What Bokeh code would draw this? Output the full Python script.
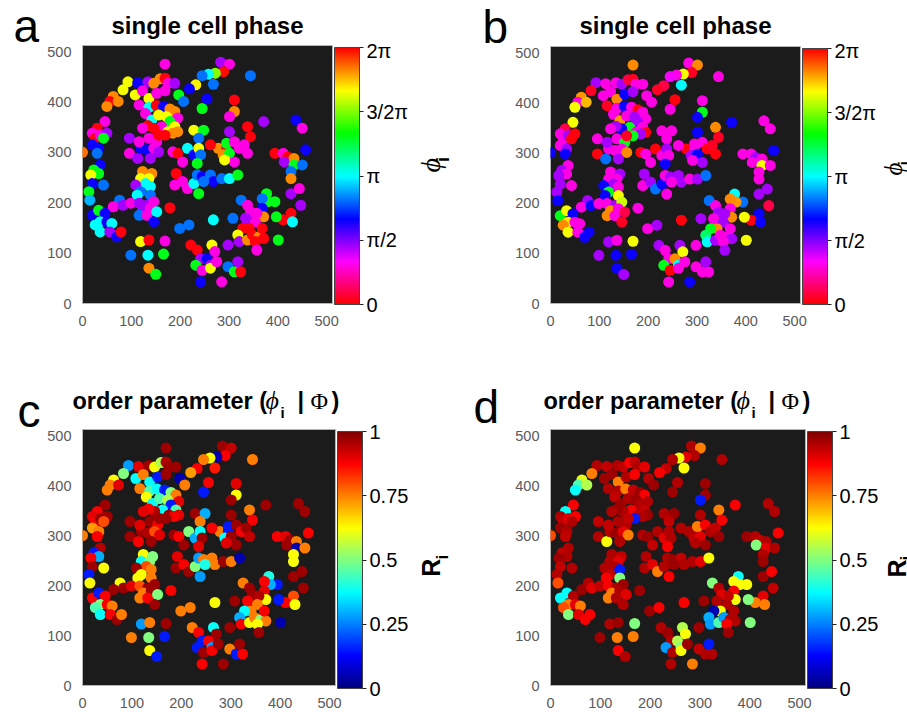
import colorsys
import math
from bokeh.plotting import figure
from bokeh.models import ColumnDataSource, LinearColorMapper, ColorBar, FixedTicker, Label, Range1d
from bokeh.layouts import column, row
from bokeh.embed import file_html
from bokeh.resources import INLINE

# ---------------- data (cell positions shared by all four panels) ----------------
cell_x = [169, 283, 301, 289, 272, 258, 245, 344, 232, 219,
          268, 93, 113, 134, 146, 159, 169, 175, 189, 83,
          108, 123, 136, 152, 169, 197, 207, 63, 56, 73,
          50, 311, 311, 301, 245, 255, 116, 136, 151, 166,
          179, 189, 195, 129, 142, 156, 172, 179, 189, 195,
          162, 146, 134, 123, 175, 185, 169, 46, 30, 20,
          26, 36, 50, 43, 20, 33, 30, 0, 36, 23,
          33, 17, 43, 20, 13, 15, 96, 96, 113, 119,
          132, 116, 136, 152, 156, 146, 156, 139, 123, 142,
          119, 136, 129, 139, 109, 119, 139, 112, 76, 63,
          83, 99, 116, 132, 146, 123, 139, 116, 132, 152,
          146, 20, 33, 46, 36, 50, 60, 26, 36, 56,
          70, 79, 179, 119, 136, 169, 99, 134, 166, 136,
          150, 228, 248, 238, 215, 228, 238, 242, 235, 185,
          195, 205, 192, 189, 205, 215, 228, 238, 235, 245,
          262, 268, 285, 301, 318, 248, 278, 295, 288, 301,
          295, 301, 311, 321, 311, 291, 262, 338, 344, 331,
          338, 371, 437, 450, 457, 394, 411, 420, 433, 413,
          433, 450, 427, 427, 427, 444, 447, 427, 411, 430,
          397, 394, 377, 380, 368, 368, 371, 325, 338, 344,
          334, 357, 354, 341, 328, 308, 268, 318, 321, 338,
          348, 361, 371, 354, 368, 401, 357, 298, 199, 218,
          222, 235, 242, 265, 271, 255, 262, 232, 245, 262,
          242, 285, 275, 298, 311, 324, 318]
cell_y = [475, 479, 475, 460, 457, 455, 452, 452, 434, 426,
          435, 440, 438, 440, 437, 446, 447, 437, 437, 424,
          414, 422, 407, 417, 422, 414, 401, 411, 401, 401,
          391, 404, 381, 371, 387, 406, 394, 389, 393, 391,
          386, 381, 368, 377, 364, 374, 371, 361, 351, 341,
          351, 348, 353, 348, 341, 338, 334, 361, 348, 338,
          328, 334, 338, 328, 315, 308, 298, 300, 275, 265,
          258, 255, 235, 238, 222, 205, 328, 298, 288, 308,
          305, 321, 328, 321, 334, 308, 301, 288, 262, 258,
          248, 248, 238, 232, 235, 222, 215, 215, 205, 192,
          195, 199, 199, 195, 202, 185, 189, 175, 175, 182,
          162, 175, 185, 179, 162, 162, 159, 156, 142, 142,
          132, 142, 190, 123, 126, 124, 96, 96, 98, 70,
          58, 344, 344, 328, 308, 295, 308, 295, 278, 301,
          298, 281, 258, 235, 242, 228, 238, 218, 255, 252,
          255, 242, 248, 248, 255, 242, 308, 308, 295, 298,
          318, 341, 321, 308, 281, 285, 315, 351, 331, 315,
          298, 361, 364, 348, 305, 298, 298, 291, 288, 281,
          275, 275, 262, 248, 218, 228, 195, 179, 166, 162,
          172, 202, 218, 202, 208, 189, 172, 205, 195, 182,
          169, 179, 162, 149, 149, 169, 166, 136, 123, 126,
          136, 132, 129, 123, 149, 126, 106, 116, 149, 156,
          116, 106, 89, 116, 103, 89, 76, 76, 66, 70,
          43, 43, 83, 73, 63, 63, 83]

# single cell phase, in units of pi (panels a and b)
phase_a = [0.3, 0.45, 0.3, 1.98, 1.5, 1.0, 0.82, 0.82, 1.68, 0.65,
           0.82, 1.65, 0.65, 0.45, 1.82, 1.82, 0.02, 0.3, 0.45, 1.65,
           1.65, 0.3, 1.65, 0.3, 0.3, 1.3, 0.82, 1.82, 0.02, 1.82,
           1.82, 0.02, 1.82, 0.3, 1.3, 0.65, 0.3, 1.0, 0.02, 0.65,
           1.82, 1.82, 0.3, 0.3, 1.0, 1.65, 1.65, 1.3, 1.65, 1.82,
           0.3, 0.02, 0.02, 0.3, 1.65, 1.82, 0.02, 0.3, 0.02, 0.3,
           0.02, 0.3, 0.45, 1.3, 0.65, 0.65, 0.82, 1.85, 0.65, 1.3,
           1.3, 1.65, 0.82, 0.65, 1.3, 0.9, 0.45, 0.3, 0.45, 0.65,
           0.65, 0.3, 0.3, 0.3, 0.02, 0.3, 0.45, 0.45, 1.82, 1.82,
           1.65, 1.65, 1.0, 1.0, 0.45, 0.82, 0.82, 1.0, 0.82, 0.3,
           0.45, 0.3, 0.45, 0.45, 0.3, 0.45, 0.3, 0.82, 0.3, 1.0,
           0.65, 0.65, 1.3, 0.65, 1.0, 0.65, 1.0, 1.0, 1.0, 0.45,
           0.65, 0.02, 0.02, 1.65, 0.02, 0.3, 0.82, 1.0, 1.3, 1.82,
           1.3, 1.65, 1.3, 0.82, 1.0, 0.65, 1.65, 0.82, 1.3, 0.3,
           0.02, 0.3, 0.02, 0.3, 0.3, 0.3, 1.0, 1.3, 0.82, 0.65,
           0.82, 0.65, 0.82, 1.0, 1.3, 0.82, 1.82, 0.02, 1.82, 1.3,
           1.3, 0.45, 0.3, 0.3, 0.3, 1.65, 0.02, 0.02, 0.02, 0.3,
           0.3, 0.45, 0.65, 0.3, 0.65, 0.02, 0.3, 0.02, 1.82, 0.45,
           1.3, 0.82, 0.82, 1.82, 0.45, 0.3, 0.45, 0.02, 0.02, 1.0,
           1.3, 1.3, 1.3, 1.3, 0.82, 0.65, 1.82, 0.82, 0.3, 0.3,
           0.45, 0.3, 0.3, 0.02, 0.02, 0.82, 1.0, 1.65, 0.45, 1.82,
           0.02, 1.82, 0.02, 0.02, 0.02, 1.3, 0.3, 0.45, 0.82, 0.82,
           0.02, 0.02, 0.45, 1.65, 0.3, 0.65, 0.45, 1.3, 0.3, 1.65,
           0.65, 0.3, 0.3, 0.82, 1.3, 0.02, 0.45]
phase_b = [1.82, 0.3, 1.82, 0.05, 1.65, 0.3, 0.35, 0.3, 0.1, 0.05,
           1.0, 0.45, 0.3, 0.3, 0.45, 0.1, 0.05, 0.3, 0.3, 0.05,
           0.3, 0.3, 1.82, 0.65, 0.45, 0.3, 0.3, 1.8, 0.3, 1.75,
           1.65, 0.3, 1.3, 0.65, 0.3, 0.02, 0.05, 0.3, 0.65, 0.3,
           0.02, 0.3, 0.3, 0.3, 1.8, 0.3, 0.45, 0.45, 0.3, 0.02,
           1.3, 0.65, 0.45, 0.3, 0.3, 0.45, 1.3, 1.65, 0.1, 0.3,
           0.3, 0.45, 0.02, 0.02, 0.3, 0.45, 0.65, 0.65, 0.3, 0.45,
           0.3, 0.45, 0.3, 0.45, 0.45, 0.65, 0.3, 0.02, 0.82, 0.3,
           0.3, 0.45, 0.3, 1.3, 0.05, 0.3, 1.82, 0.45, 0.3, 0.45,
           0.3, 0.3, 0.45, 0.3, 0.65, 1.3, 1.65, 0.65, 0.45, 0.3,
           0.65, 0.3, 0.3, 0.45, 1.6, 1.82, 0.3, 1.82, 0.3, 0.1,
           0.05, 1.3, 1.65, 0.65, 1.7, 0.3, 0.3, 1.82, 1.65, 0.3,
           0.65, 0.65, 0.3, 0.45, 0.3, 1.65, 0.45, 0.65, 0.65, 0.65,
           0.45, 0.3, 0.3, 0.3, 0.02, 0.3, 0.45, 0.3, 0.65, 0.02,
           0.3, 0.3, 0.45, 0.3, 0.45, 0.82, 0.65, 0.3, 0.3, 0.45,
           0.45, 0.45, 0.3, 0.45, 0.82, 0.3, 0.02, 0.3, 0.45, 0.65,
           0.3, 0.65, 0.3, 0.02, 0.45, 0.3, 0.3, 1.82, 0.05, 0.05,
           0.02, 0.65, 0.3, 0.3, 0.65, 0.3, 0.3, 0.45, 0.3, 0.3,
           1.65, 0.3, 0.3, 0.3, 0.45, 0.45, 0.1, 0.65, 0.02, 0.65,
           1.65, 0.82, 1.0, 1.8, 1.82, 0.3, 1.82, 0.82, 0.3, 0.45,
           0.3, 0.45, 0.45, 1.82, 1.3, 0.45, 0.02, 1.2, 1.0, 0.45,
           0.3, 0.3, 0.45, 0.3, 0.3, 1.65, 0.45, 0.3, 0.3, 0.45,
           0.45, 0.3, 0.3, 0.45, 1.65, 1.82, 1.0, 1.3, 0.02, 0.3,
           0.3, 0.65, 0.3, 0.3, 0.3, 0.3, 0.45]
# order parameter R_i (panels c and d)
order_c = [0.97, 0.97, 0.93, 0.88, 0.05, 0.62, 0.75, 0.75, 0.88, 0.72,
           0.85, 0.28, 0.9, 0.97, 0.62, 0.55, 0.95, 0.97, 0.97, 0.5,
           0.38, 0.75, 0.38, 0.15, 0.97, 0.05, 0.75, 0.62, 0.75, 0.9,
           0.75, 0.9, 0.62, 0.97, 0.15, 0.88, 0.75, 0.45, 0.38, 0.15,
           0.5, 0.75, 0.9, 0.62, 0.38, 0.45, 0.55, 0.15, 0.45, 0.9,
           0.38, 0.95, 0.88, 0.9, 0.97, 0.88, 0.97, 0.97, 0.88, 0.9,
           0.88, 0.97, 0.97, 0.8, 0.72, 0.75, 0.88, 0.75, 0.95, 0.15,
           0.3, 0.88, 0.62, 0.97, 0.15, 0.62, 0.97, 0.97, 0.88, 0.97,
           0.95, 0.9, 0.97, 0.88, 0.97, 0.8, 0.9, 0.97, 0.62, 0.5,
           0.38, 0.5, 0.8, 0.75, 0.97, 0.62, 0.75, 0.62, 0.62, 0.97,
           0.97, 0.9, 0.8, 0.97, 0.97, 0.75, 0.97, 0.75, 0.88, 0.5,
           0.97, 0.88, 0.15, 0.88, 0.5, 0.88, 0.75, 0.45, 0.38, 0.88,
           0.97, 0.75, 0.88, 0.28, 0.75, 0.97, 0.75, 0.5, 0.15, 0.62,
           0.15, 0.97, 0.3, 0.75, 0.5, 0.3, 0.38, 0.97, 0.9, 0.97,
           0.88, 0.97, 0.9, 0.97, 0.88, 0.97, 0.5, 0.28, 0.28, 0.75,
           0.75, 0.75, 0.97, 0.75, 0.05, 0.4, 0.75, 0.15, 0.38, 0.97,
           0.15, 0.97, 0.97, 0.88, 0.97, 0.9, 0.88, 0.75, 0.88, 0.97,
           0.93, 0.97, 0.97, 0.97, 0.88, 0.88, 0.9, 0.97, 0.75, 0.97,
           0.05, 0.75, 0.62, 0.62, 0.97, 0.97, 0.97, 0.8, 0.88, 0.62,
           0.15, 0.15, 0.4, 0.3, 0.88, 0.9, 0.62, 0.75, 0.97, 0.97,
           0.88, 0.95, 0.75, 0.75, 0.38, 0.97, 0.62, 0.3, 0.88, 0.62,
           0.75, 0.5, 0.75, 0.62, 0.88, 0.05, 0.97, 0.97, 0.75, 0.75,
           0.75, 0.88, 0.15, 0.38, 0.97, 0.88, 0.28, 0.15, 0.97, 0.88,
           0.88, 0.97, 0.97, 0.75, 0.15, 0.88, 0.97]
order_d = [0.62, 0.95, 0.75, 0.95, 0.9, 0.62, 0.95, 0.95, 0.93, 0.88,
           0.62, 0.95, 0.93, 0.95, 0.93, 0.88, 0.93, 0.95, 0.9, 0.75,
           0.97, 0.97, 0.75, 0.95, 0.88, 0.95, 0.97, 0.6, 0.45, 0.55,
           0.38, 0.97, 0.97, 0.15, 0.97, 0.95, 0.95, 0.95, 0.75, 0.93,
           0.97, 0.88, 0.95, 0.93, 0.97, 0.95, 0.97, 0.95, 0.93, 0.97,
           0.88, 0.95, 0.97, 0.95, 0.93, 0.95, 0.15, 0.88, 0.38, 0.95,
           0.93, 0.9, 0.88, 0.95, 0.97, 0.95, 0.93, 0.8, 0.95, 0.93,
           0.95, 0.97, 0.95, 0.93, 0.95, 0.8, 0.93, 0.95, 0.62, 0.95,
           0.97, 0.93, 0.95, 0.95, 0.93, 0.9, 0.75, 0.95, 0.95, 0.93,
           0.95, 0.9, 0.95, 0.15, 0.95, 0.93, 0.5, 0.88, 0.95, 0.97,
           0.9, 0.93, 0.88, 0.95, 0.97, 0.75, 0.95, 0.75, 0.95, 0.9,
           0.95, 0.38, 0.38, 0.95, 0.75, 0.9, 0.75, 0.8, 0.5, 0.9,
           0.88, 0.88, 0.97, 0.95, 0.97, 0.5, 0.97, 0.75, 0.75, 0.88,
           0.95, 0.95, 0.97, 0.93, 0.95, 0.9, 0.95, 0.95, 0.88, 0.95,
           0.97, 0.93, 0.95, 0.95, 0.9, 0.75, 0.95, 0.88, 0.95, 0.97,
           0.93, 0.95, 0.95, 0.9, 0.62, 0.97, 0.95, 0.97, 0.93, 0.9,
           0.75, 0.95, 0.88, 0.95, 0.97, 0.95, 0.95, 0.75, 0.88, 0.93,
           0.97, 0.88, 0.95, 0.95, 0.88, 0.97, 0.95, 0.93, 0.95, 0.5,
           0.9, 0.95, 0.95, 0.97, 0.97, 0.88, 0.93, 0.9, 0.75, 0.75,
           0.5, 0.62, 0.38, 0.62, 0.62, 0.88, 0.62, 0.5, 0.95, 0.9,
           0.95, 0.93, 0.95, 0.62, 0.05, 0.97, 0.88, 0.3, 0.28, 0.45,
           0.28, 0.95, 0.95, 0.88, 0.95, 0.5, 0.97, 0.97, 0.97, 0.88,
           0.95, 0.97, 0.95, 0.55, 0.62, 0.55, 0.5, 0.28, 0.95, 0.62,
           0.95, 0.75, 0.97, 0.93, 0.95, 0.95, 0.15]

axis_ticks = [0, 100, 200, 300, 400, 500]
phase_ticks = [0, 0.5, 1, 1.5, 2]
phase_tick_labels = ["0", "π/2", "π", "3/2π", "2π"]
order_ticks = [0, 0.25, 0.5, 0.75, 1]
order_tick_labels = ["0", "0.25", "0.5", "0.75", "1"]


# ---------------- colormaps ----------------
def hex_rgb(r, g, b):
    return "#%02x%02x%02x" % (round(r * 255), round(g * 255), round(b * 255))


def hsv_flipped(n=256):
    out = []
    for i in range(n):
        t = i / (n - 1)
        out.append(hex_rgb(*colorsys.hsv_to_rgb((1.0 - t) % 1.0, 1.0, 1.0)))
    return out


def jet(n=256):
    out = []
    for i in range(n):
        t = i / (n - 1)
        r = min(max(1.5 - abs(4 * t - 3), 0), 1)
        g = min(max(1.5 - abs(4 * t - 2), 0), 1)
        b = min(max(1.5 - abs(4 * t - 1), 0), 1)
        out.append(hex_rgb(r, g, b))
    return out


SANS = "Liberation Sans"
SERIF = "Liberation Serif"
XMAX = 512
R90 = math.pi / 2
ROT_SHIFT = 14      # observed offset of rotated labels
BASE_K = 0.36       # observed baseline offset (fraction of font size)


def scatter_panel(values, palette, high, ticks, tick_labels, geom):
    W, H, left, top, fs = geom
    p = figure(width=W, height=H, x_range=Range1d(0, XMAX), y_range=Range1d(0, XMAX),
               output_backend="svg", toolbar_location=None,
               min_border_left=left, min_border_top=top,
               min_border_right=W - left - fs, min_border_bottom=H - top - fs)
    p.background_fill_color = "#1b1b1b"
    p.border_fill_color = "white"
    p.outline_line_color = "#b5b5b5"
    p.grid.visible = False
    for ax in (p.xaxis, p.yaxis):
        ax.ticker = FixedTicker(ticks=axis_ticks)
        ax.axis_line_color = None
        ax.major_tick_line_color = None
        ax.minor_tick_line_color = None
        ax.major_label_text_color = "#5a5a5a"
        ax.major_label_text_font = SANS
        ax.major_label_text_font_size = "14.5px"
    p.xaxis.major_label_standoff = 6
    p.yaxis.major_label_standoff = 5

    src = ColumnDataSource(dict(x=cell_x, y=cell_y, v=values))
    mapper = LinearColorMapper(palette=palette, low=0, high=high)
    p.scatter("x", "y", source=src, size=11,
              fill_color={"field": "v", "transform": mapper}, line_color=None)

    cb = ColorBar(color_mapper=mapper, ticker=FixedTicker(ticks=ticks),
                  major_label_overrides={t: l for t, l in zip(ticks, tick_labels)},
                  width=25, height=fs - 1, padding=2, margin=0,
                  label_standoff=3, major_tick_in=0, major_tick_out=4,
                  major_tick_line_color="#222222", minor_tick_line_color=None,
                  major_label_text_font=SANS, major_label_text_font_size="20px",
                  major_label_text_color="black",
                  bar_line_color="#444444", bar_line_width=1,
                  border_line_color=None, background_fill_color=None)
    p.add_layout(cb, "right")
    return p


def text_strip(w, h, left, top, items):
    p = figure(width=w, height=h, x_range=Range1d(0, w), y_range=Range1d(0, h),
               x_axis_type=None, y_axis_type=None, min_border=0,
               output_backend="svg", toolbar_location=None)
    p.outline_line_color = None
    p.background_fill_color = "white"
    p.border_fill_color = "white"
    for (t, ix, iy, font, size, style, align, ang) in items:
        if ang:
            py = iy + ROT_SHIFT
            base = "middle"
        else:
            py = iy - BASE_K * size
            base = "alphabetic"
        p.add_layout(Label(x=ix - left, y=h - (py - top), text=t, text_font=font,
                           text_font_size="%gpx" % size, text_font_style=style,
                           text_align=align, text_baseline=base, angle=ang,
                           text_color="black"))
    return p


def order_title(dx):
    return [("order parameter (", 72 + dx, 409, SANS, 23.5, "bold", "left", 0),
            ("ϕ", 265 + dx, 409, SERIF, 26, "italic", "left", 0),
            ("i", 280 + dx, 417.5, SANS, 15, "bold", "left", 0),
            ("|", 297 + dx, 409, SANS, 23.5, "bold", "left", 0),
            ("Φ", 310 + dx, 409, SERIF, 24, "normal", "left", 0),
            (")", 331 + dx, 409, SANS, 23.5, "bold", "left", 0)]


# ---------------- row 1 (panels a, b) ----------------
letter_a = text_strip(44, 356, 0, 0, [("a", 13, 42, SANS, 46, "normal", "left", 0)])
head_a = text_strip(416, 39, 44, 0, [("single cell phase", 207, 33.5, SANS, 24, "bold", "center", 0)])
pa = scatter_panel(phase_a, hsv_flipped(), 2, phase_ticks, phase_tick_labels, (369, 317, 34, 6, 258))
side_a = text_strip(47, 317, 413, 39, [
    ("ϕ", 430, 172, SERIF, 28, "italic", "center", R90),
    ("i", 442, 165, SANS, 18, "bold", "center", R90)])

letter_b = text_strip(52, 356, 460, 0, [("b", 482, 43, SANS, 46, "normal", "left", 0)])
head_b = text_strip(395, 39, 512, 0, [("single cell phase", 675, 33.5, SANS, 24, "bold", "center", 0)])
pb = scatter_panel(phase_b, hsv_flipped(), 2, phase_ticks, phase_tick_labels, (369, 317, 35, 7, 257))
side_b = text_strip(26, 317, 881, 39, [
    ("ϕ", 893, 176, SERIF, 25, "italic", "center", R90),
    ("i", 903, 169, SANS, 15, "bold", "center", R90)])

# ---------------- row 2 (panels c, d) ----------------
letter_c = text_strip(44, 354, 0, 356, [("c", 17, 427, SANS, 46, "normal", "left", 0)])
head_c = text_strip(416, 65, 44, 356, order_title(0))
pc = scatter_panel(order_c, jet(), 1, order_ticks, order_tick_labels, (369, 289, 34, 8, 258))
side_c = text_strip(47, 289, 413, 421, [
    ("R", 430, 563, SANS, 25, "bold", "center", R90),
    ("i", 442, 551, SANS, 16, "bold", "center", R90)])

letter_d = text_strip(52, 354, 460, 356, [("d", 473, 423, SANS, 46, "normal", "left", 0)])
head_d = text_strip(395, 65, 512, 356, order_title(471))
pd = scatter_panel(order_d, jet(), 1, order_ticks, order_tick_labels, (371, 289, 36, 8, 258))
side_d = text_strip(24, 289, 883, 421, [
    ("R", 896, 564, SANS, 25, "bold", "center", R90),
    ("i", 906, 552, SANS, 16, "bold", "center", R90)])

layout = column(
    row(letter_a, column(head_a, row(pa, side_a)), letter_b, column(head_b, row(pb, side_b))),
    row(letter_c, column(head_c, row(pc, side_c)), letter_d, column(head_d, row(pd, side_d))))
open("out.html", "w").write(file_html(layout, INLINE))
